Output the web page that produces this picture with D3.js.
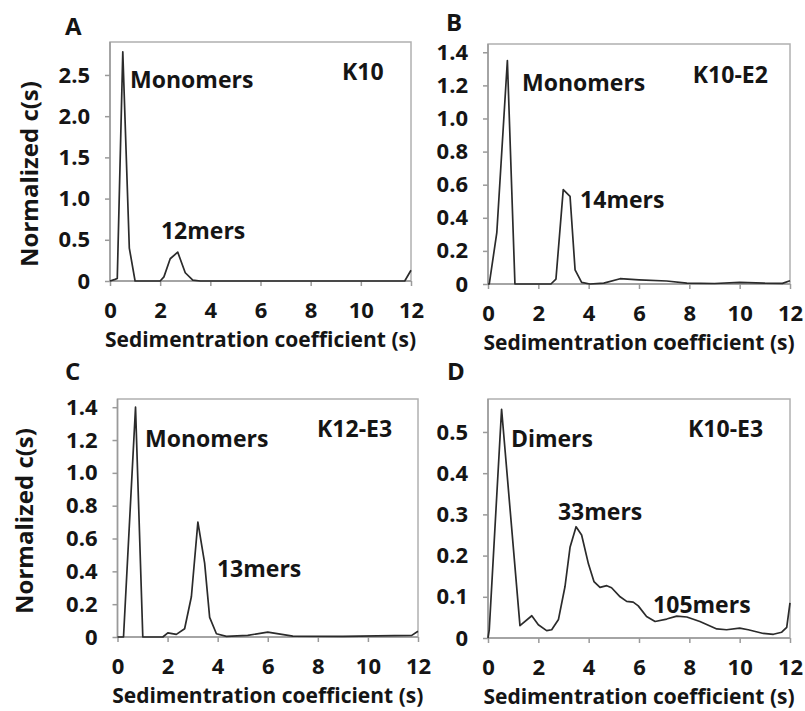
<!DOCTYPE html>
<html>
<head>
<meta charset="utf-8">
<script src="https://cdn.jsdelivr.net/npm/d3@7/dist/d3.min.js"></script>
<style>
  body { margin: 0; background: #fff; }
  svg { display: block; }
  text { font-family: "Open Sans", "DejaVu Sans", sans-serif; font-weight: 700; fill: #151515; }
</style>
</head>
<body>
<svg id="chart" width="805" height="711"></svg>
<script>
// Sedimentation coefficient grid (s) and normalized c(s) for each construct
const sK10   = [0, 0.2, 0.29, 0.51, 0.77, 1.0, 2.0, 2.15, 2.4, 2.7, 3.0, 3.3, 3.6, 6, 9, 11.75, 12];
const cK10   = [0, 0.02, 0.03, 2.78, 0.40, 0.0, 0.0, 0.05, 0.27, 0.35, 0.10, 0.01, 0.0, 0.0, 0.0, 0.0, 0.13];

const sK10E2 = [0, 0.05, 0.35, 0.77, 1.07, 2.5, 2.7, 2.99, 3.26, 3.46, 3.72, 4.05, 4.6, 5.25, 6.0, 7.1, 7.9, 9.0, 10.0, 11.0, 11.7, 12];
const cK10E2 = [0, 0.0, 0.31, 1.35, 0.0, 0.0, 0.03, 0.57, 0.53, 0.085, 0.01, 0.0, 0.005, 0.032, 0.025, 0.018, 0.005, 0.003, 0.01, 0.005, 0.004, 0.02];

const sK12E3 = [0, 0.24, 0.72, 1.01, 1.81, 2.01, 2.35, 2.68, 2.95, 3.21, 3.48, 3.68, 3.95, 4.35, 5.2, 6.0, 7.0, 9.0, 11.75, 12];
const cK12E3 = [0, 0.0, 1.40, 0.0, 0.0, 0.025, 0.016, 0.05, 0.245, 0.70, 0.45, 0.12, 0.02, 0.004, 0.01, 0.03, 0.005, 0.004, 0.01, 0.035];

const sK10E3 = [0, 0.05, 0.54, 1.27, 1.74, 2.0, 2.33, 2.53, 2.8, 3.06, 3.26, 3.5, 3.72, 3.99, 4.21, 4.45, 4.72, 4.91, 5.25, 5.51, 5.77, 5.97, 6.3, 6.64, 7.1, 7.5, 7.9, 8.42, 9.09, 9.48, 10.0, 10.34, 10.94, 11.34, 11.67, 11.87, 12];
const cK10E3 = [0, 0.02, 0.555, 0.03, 0.054, 0.032, 0.018, 0.02, 0.045, 0.125, 0.22, 0.27, 0.25, 0.18, 0.137, 0.123, 0.127, 0.122, 0.1, 0.089, 0.087, 0.078, 0.052, 0.04, 0.046, 0.053, 0.051, 0.04, 0.022, 0.02, 0.024, 0.02, 0.011, 0.009, 0.014, 0.026, 0.085];

// Axis ticks
const xTicks   = [0, 2, 4, 6, 8, 10, 12];
const yTicksA  = [0, 0.5, 1.0, 1.5, 2.0, 2.5];
const yTicksBC = [0, 0.2, 0.4, 0.6, 0.8, 1.0, 1.2, 1.4];
const yTicksD  = [0, 0.1, 0.2, 0.3, 0.4, 0.5];

const fmtY = v => v === 0 ? "0" : d3.format(".1f")(v);

// Panel layout: plot box [left, top, right, bottom] in px, labels anchored in data units
const panels = [
  { letter: "A", letterPos: [65, 35], s: sK10, c: cK10, yMax: 2.9, yTicks: yTicksA,
    box: [110, 42, 411, 281], yTitle: [38, 174],
    notes: [["Monomers", 0.80, 2.34], ["K10", 9.25, 2.44], ["12mers", 2.03, 0.51]] },
  { letter: "B", letterPos: [446, 31], s: sK10E2, c: cK10E2, yMax: 1.45, yTicks: yTicksBC,
    box: [488, 44, 790, 284], yTitle: null,
    notes: [["Monomers", 1.35, 1.166], ["K10-E2", 8.14, 1.215], ["14mers", 3.66, 0.459]] },
  { letter: "C", letterPos: [65, 380], s: sK12E3, c: cK12E3, yMax: 1.45, yTicks: yTicksBC,
    box: [117.5, 399, 418, 637], yTitle: [33, 521],
    notes: [["Monomers", 1.10, 1.158], ["K12-E3", 7.97, 1.219], ["13mers", 3.97, 0.366]] },
  { letter: "D", letterPos: [447, 380], s: sK10E3, c: cK10E3, yMax: 0.58, yTicks: yTicksD,
    box: [488, 399, 790, 638], yTitle: null,
    notes: [["Dimers", 0.91, 0.464], ["K10-E3", 7.95, 0.488], ["33mers", 2.78, 0.286], ["105mers", 6.56, 0.061]] }
];

const svg = d3.select("#chart");
const axisColor = "#9a9a9a";

panels.forEach(p => {
  const [x0, y0, x1, y1] = p.box;
  const x = d3.scaleLinear().domain([0, 12]).range([x0, x1]);
  const y = d3.scaleLinear().domain([0, p.yMax]).range([y1, y0]);
  const g = svg.append("g");

  // panel letter
  g.append("text").attr("x", p.letterPos[0]).attr("y", p.letterPos[1])
    .style("font-size", "24px").text(p.letter);

  // plot frame
  g.append("rect").attr("x", x0).attr("y", y0).attr("width", x1 - x0).attr("height", y1 - y0)
    .attr("fill", "none").attr("stroke", "#b0b0b0").attr("stroke-width", 1.5);

  // y axis
  const yAxis = d3.axisLeft(y).tickValues(p.yTicks).tickFormat(fmtY).tickSize(5).tickPadding(15);
  const ya = g.append("g").attr("transform", `translate(${x0},0)`).call(yAxis)
    .attr("font-family", null).attr("font-size", null);
  ya.select(".domain").attr("stroke", axisColor).attr("stroke-width", 1.5)
    .attr("d", `M0,${y1}V${y0}`);
  ya.selectAll(".tick line").attr("stroke", axisColor).attr("stroke-width", 1.5);
  ya.selectAll(".tick text").style("font-size", "22px").attr("fill", "#151515");

  // x axis
  const xAxis = d3.axisBottom(x).tickValues(xTicks).tickFormat(d3.format("d")).tickSize(5).tickPadding(14);
  const xa = g.append("g").attr("transform", `translate(0,${y1})`).call(xAxis)
    .attr("font-family", null).attr("font-size", null);
  xa.select(".domain").attr("stroke", axisColor).attr("stroke-width", 1.5).attr("d", `M${x0},0H${x1}`);
  xa.selectAll(".tick line").attr("stroke", axisColor).attr("stroke-width", 1.5);
  xa.selectAll(".tick text").style("font-size", "22px").attr("fill", "#151515")
    .attr("dy", null).attr("y", 37);

  // x axis title
  g.append("text").attr("x", (x0 + x1) / 2).attr("y", y1 + 66).attr("text-anchor", "middle")
    .style("font-size", "21px").text("Sedimentration coefficient (s)");

  // y axis title (left column only)
  if (p.yTitle) {
    g.append("text").attr("transform", `translate(${p.yTitle[0]},${p.yTitle[1]}) rotate(-90)`)
      .attr("text-anchor", "middle").style("font-size", "24px").text("Normalized c(s)");
  }

  // c(s) distribution
  const pts = p.s.map((v, i) => [v, p.c[i]]);
  g.append("path").datum(pts)
    .attr("fill", "none").attr("stroke", "#2b2b2b").attr("stroke-width", 1.7)
    .attr("stroke-linejoin", "round")
    .attr("d", d3.line().x(d => x(d[0])).y(d => y(d[1])));

  // peak and sample labels
  p.notes.forEach(([t, sx, cy]) => {
    g.append("text").attr("x", x(sx)).attr("y", y(cy)).style("font-size", "23px").text(t);
  });
});
</script>
</body>
</html>
